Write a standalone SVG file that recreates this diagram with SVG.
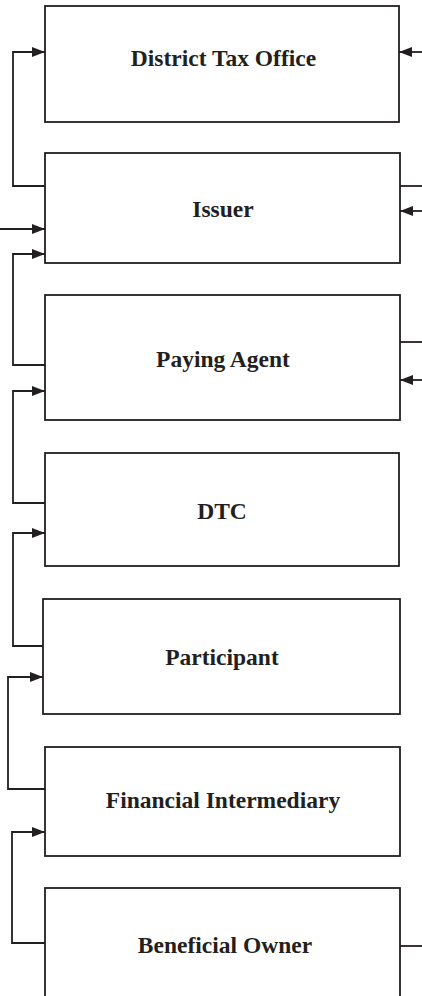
<svg xmlns="http://www.w3.org/2000/svg" width="422" height="996" viewBox="0 0 422 996">
<style>
.box{fill:#fff;stroke:#231f20;stroke-width:1.8}
.lbl{font-family:"Liberation Serif","Times New Roman",serif;font-weight:bold;font-size:23.5px;fill:#231f20;text-anchor:middle}
.c{fill:none;stroke:#231f20;stroke-width:1.8}
</style>
<defs>
<marker id="ah" viewBox="0 0 13 10" refX="13" refY="5" markerWidth="13" markerHeight="10" markerUnits="userSpaceOnUse" orient="auto">
<path d="M0,0 L13,5 L0,10 Z" fill="#231f20"/>
</marker>
</defs>
<rect width="422" height="996" fill="#fff"/>
<g id="district-tax-office"><rect class="box" x="45" y="6" width="354" height="116"/><text class="lbl" x="223.5" y="66">District Tax Office</text></g>
<g id="issuer"><rect class="box" x="45" y="153" width="355" height="110"/><text class="lbl" x="223" y="217">Issuer</text></g>
<g id="paying-agent"><rect class="box" x="45" y="295" width="355" height="125"/><text class="lbl" x="223" y="367">Paying Agent</text></g>
<g id="dtc"><rect class="box" x="45" y="453" width="354" height="113"/><text class="lbl" x="222" y="519">DTC</text></g>
<g id="participant"><rect class="box" x="43" y="599" width="357" height="115"/><text class="lbl" x="222" y="665">Participant</text></g>
<g id="financial-intermediary"><rect class="box" x="45" y="747" width="355" height="109"/><text class="lbl" x="223" y="808">Financial Intermediary</text></g>
<g id="beneficial-owner"><rect class="box" x="45" y="888" width="355" height="120"/><text class="lbl" x="225" y="953">Beneficial Owner</text></g>
<g id="connectors">
<path class="c" d="M45,186 H13 V52 H45" marker-end="url(#ah)"/>
<path class="c" d="M422,52 H399" marker-end="url(#ah)"/>
<path class="c" d="M400,186 H422"/>
<path class="c" d="M422,211 H400" marker-end="url(#ah)"/>
<path class="c" d="M0,229 H45" marker-end="url(#ah)"/>
<path class="c" d="M45,365 H13 V254 H45" marker-end="url(#ah)"/>
<path class="c" d="M400,342 H422"/>
<path class="c" d="M422,380 H400" marker-end="url(#ah)"/>
<path class="c" d="M45,503 H13 V391 H45" marker-end="url(#ah)"/>
<path class="c" d="M43,646 H13 V533 H45" marker-end="url(#ah)"/>
<path class="c" d="M45,789 H8 V677 H43" marker-end="url(#ah)"/>
<path class="c" d="M45,943 H12 V832 H45" marker-end="url(#ah)"/>
<path class="c" d="M400,946 H422"/>
</g>
</svg>
